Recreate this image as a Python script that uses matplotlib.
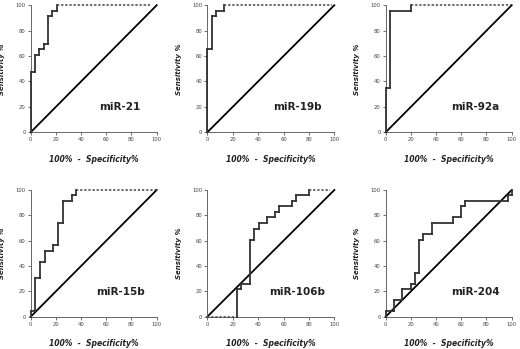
import matplotlib
matplotlib.use("Agg")
import matplotlib.pyplot as plt

# ROC data (100% - specificity, sensitivity)
names = ["miR-21", "miR-19b", "miR-92a", "miR-15b", "miR-106b", "miR-204"]

fpr_21 = [0, 0, 3.3, 7.0, 10.5, 13.7, 17.2, 20.6]
tpr_21 = [0, 47.8, 60.9, 65.2, 69.6, 91.3, 95.7, 100]

fpr_19b = [0, 0, 3.3, 6.7, 13.3]
tpr_19b = [0, 65.2, 91.3, 95.7, 100]

fpr_92a = [0, 0, 3.3, 20.0]
tpr_92a = [0, 34.8, 95.7, 100]

fpr_15b = [0, 0, 3.5, 7.4, 11.0, 18.0, 22.0, 25.8, 32.5, 36.2]
tpr_15b = [0, 4.3, 30.4, 43.5, 52.2, 56.5, 73.9, 91.3, 95.7, 100]

fpr_106b = [0, 23.3, 26.7, 33.3, 36.7, 40.5, 46.7, 53.3, 56.7, 66.7, 70.0, 80.0]
tpr_106b = [0, 21.7, 26.1, 60.9, 69.6, 73.9, 78.3, 82.6, 87.0, 91.3, 95.7, 100]

fpr_204 = [0, 0, 6.7, 13.3, 20.0, 23.3, 26.7, 30.0, 36.7, 53.3, 60.0, 63.3, 96.7, 100]
tpr_204 = [0, 4.3, 13.0, 21.7, 26.1, 34.8, 60.9, 65.2, 73.9, 78.3, 87.0, 91.3, 95.7, 100]

# where the last flat part at 100% ends
end_x = [95, 98.4, 99.5, 100, 97, 100]

fprs = [fpr_21, fpr_19b, fpr_92a, fpr_15b, fpr_106b, fpr_204]
tprs = [tpr_21, tpr_19b, tpr_92a, tpr_15b, tpr_106b, tpr_204]

ticks = [0, 20, 40, 60, 80, 100]

# axes boxes in figure fraction [left, bottom, width, height]
boxes = [
    [0.059, 0.621, 0.2423, 0.364],
    [0.3987, 0.621, 0.2442, 0.364],
    [0.7417, 0.621, 0.2423, 0.364],
    [0.059, 0.0926, 0.2423, 0.363],
    [0.3987, 0.0926, 0.2442, 0.363],
    [0.7417, 0.0926, 0.2423, 0.363],
]


def step_path(fpr, tpr, xend):
    xs, ys = [fpr[0]], [tpr[0]]
    for i in range(1, len(fpr)):
        xs += [fpr[i], fpr[i]]
        ys += [tpr[i - 1], tpr[i]]
    if xend > xs[-1]:
        xs.append(xend)
        ys.append(ys[-1])
    return xs, ys


fig = plt.figure(figsize=(5.2, 3.49), dpi=100)

for k in range(6):
    ax = fig.add_axes(boxes[k])
    xs, ys = step_path(fprs[k], tprs[k], end_x[k])

    # flat parts on 0% or 100% are dashed, the rest solid
    for i in range(len(xs) - 1):
        x0, x1, y0, y1 = xs[i], xs[i + 1], ys[i], ys[i + 1]
        if y0 == y1 and y0 in (0, 100):
            ax.plot([x0, x1], [y0, y1], color="#444444", lw=1.1,
                    ls=(0, (1.5, 1.2)), clip_on=False, zorder=3)
        else:
            ax.plot([x0, x1], [y0, y1], color="#333333", lw=1.3,
                    solid_capstyle="projecting", clip_on=False, zorder=3)

    ax.plot([0, 100], [0, 100], color="black", lw=1.3, clip_on=False, zorder=2)

    ax.set_xlim(0, 100)
    ax.set_ylim(0, 100)
    ax.set_xticks(ticks)
    ax.set_yticks(ticks)
    ax.tick_params(length=2, width=0.6, pad=1.5, labelsize=3.8,
                   colors="#555555", labelcolor="#444444")
    for s in ["top", "right"]:
        ax.spines[s].set_visible(False)
    for s in ["left", "bottom"]:
        ax.spines[s].set_color("#666666")
        ax.spines[s].set_linewidth(0.7)

    ax.set_xlabel("100%  -  Specificity%", fontsize=5.5, fontweight="bold",
                  style="italic", color="#222222")
    ax.set_ylabel("Sensitivity %", fontsize=5, fontweight="bold",
                  style="italic", color="#222222")
    ax.xaxis.set_label_coords(0.5, -0.18)
    ax.yaxis.set_label_coords(-0.2, 0.5)

    ax.text(71, 19.5, names[k], ha="center", va="center", fontsize=7.5,
            fontweight="bold", color="#222222")

fig.savefig("out.png", dpi=100)
